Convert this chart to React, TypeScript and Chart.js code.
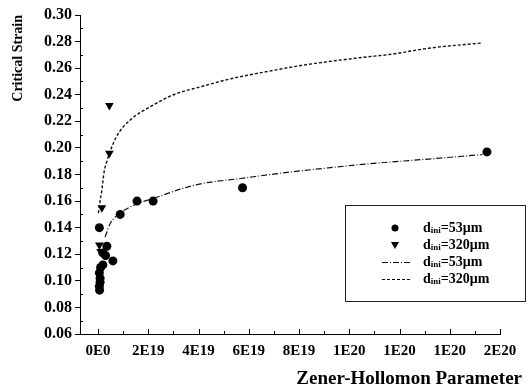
import React, { useEffect, useRef } from 'react';
import { Chart, registerables } from 'chart.js';

Chart.register(...registerables);

const FONT = '"Liberation Serif", "DejaVu Serif", "Times New Roman", serif';

// Axis ticks
const xTickValues = [0, 2e19, 4e19, 6e19, 8e19, 1e20, 1.2e20, 1.4e20, 1.6e20];
const xTickLabels = ['0E0', '2E19', '4E19', '6E19', '8E19', '1E20', '1E20', '1E20', '2E20'];
const xMinorValues = [1e19, 3e19, 5e19, 7e19, 9e19, 1.1e20, 1.3e20, 1.5e20];
const yTickValues = [0.06, 0.08, 0.1, 0.12, 0.14, 0.16, 0.18, 0.2, 0.22, 0.24, 0.26, 0.28, 0.3];
const yTickLabels = ['0.06', '0.08', '0.10', '0.12', '0.14', '0.16', '0.18', '0.20', '0.22', '0.24', '0.26', '0.28', '0.30'];
const yMinorValues = [0.07, 0.09, 0.11, 0.13, 0.15, 0.17, 0.19, 0.21, 0.23, 0.25, 0.27, 0.29];

// d_ini = 53 µm measured points
const d53X = [5e17, 3.5e18, 1.9e18, 3.0e18, 1.9e18, 1.0e18, 5e17, 8e17, 8e17, 5e17, 6e17, 5.9e18, 8.8e18, 1.55e19, 2.19e19, 5.75e19, 1.548e20];
const d53Y = [0.140, 0.126, 0.121, 0.119, 0.112, 0.110, 0.106, 0.102, 0.099, 0.096, 0.093, 0.115, 0.150, 0.160, 0.160, 0.170, 0.197];

// d_ini = 320 µm measured points
const d320X = [1.5e18, 5e17, 1.0e18, 4.5e18, 4.5e18];
const d320Y = [0.155, 0.127, 0.122, 0.196, 0.232];

// fitted curves
const fit53X = [2.8e18, 4.8e18, 8.8e18, 1.56e19, 2.2e19, 3.28e19, 4.08e19, 5.68e19, 7.28e19, 9.16e19, 1.076e20, 1.34e20, 1.53e20];
const fit53Y = [0.133, 0.143, 0.151, 0.158, 0.162, 0.169, 0.173, 0.177, 0.181, 0.185, 0.188, 0.192, 0.195];

const fit320X = [1e17, 8e17, 1.5e18, 2.4e18, 3.5e18, 7.2e18, 1.28e19, 2.08e19, 3.0e19, 4.08e19, 5.28e19, 6.6e19, 8.08e19, 1.048e20, 1.168e20, 1.316e20, 1.53e20];
const fit320Y = [0.151, 0.160, 0.168, 0.182, 0.190, 0.208, 0.221, 0.231, 0.240, 0.246, 0.252, 0.257, 0.262, 0.268, 0.2705, 0.275, 0.279];

const legendItems = [
  { kind: 'circle', label: '=53μm' },
  { kind: 'triangle', label: '=320μm' },
  { kind: 'dashdot', label: '=53μm' },
  { kind: 'dash', label: '=320μm' },
];

const zip = (xs: number[], ys: number[]) => xs.map((x, i) => ({ x, y: ys[i] }));

const decorPlugin = {
  id: 'decor',
  afterDraw(chart: any) {
    const { ctx, chartArea, scales } = chart;
    const xs = scales.x;
    const ys = scales.y;
    ctx.save();
    ctx.strokeStyle = '#000';
    ctx.lineWidth = 1;
    // x ticks (inward)
    ctx.beginPath();
    xTickValues.forEach((v) => {
      const px = Math.round(xs.getPixelForValue(v)) + 0.5;
      ctx.moveTo(px, chartArea.bottom);
      ctx.lineTo(px, chartArea.bottom - 5);
    });
    xMinorValues.forEach((v) => {
      const px = Math.round(xs.getPixelForValue(v)) + 0.5;
      ctx.moveTo(px, chartArea.bottom);
      ctx.lineTo(px, chartArea.bottom - 3);
    });
    // y minor ticks (inward)
    yMinorValues.forEach((v) => {
      const py = Math.round(ys.getPixelForValue(v)) + 0.5;
      ctx.moveTo(chartArea.left, py);
      ctx.lineTo(chartArea.left + 3, py);
    });
    ctx.stroke();

    // x axis title
    ctx.fillStyle = '#000';
    ctx.font = `bold 19px ${FONT}`;
    ctx.textAlign = 'right';
    ctx.textBaseline = 'alphabetic';
    ctx.fillText('Zener-Hollomon Parameter', chartArea.right + 22, 384);

    // legend
    const bx = chartArea.left + 265;
    const by = chartArea.top + 190;
    const bw = 180;
    const bh = 96;
    ctx.fillStyle = '#fff';
    ctx.fillRect(bx, by, bw, bh);
    ctx.strokeStyle = '#222';
    ctx.lineWidth = 1;
    ctx.strokeRect(bx + 0.5, by + 0.5, bw, bh);
    const symX = bx + 50;
    const textX = bx + 78;
    legendItems.forEach((it, i) => {
      const cy = by + 23 + i * 17;
      ctx.fillStyle = '#000';
      ctx.strokeStyle = '#000';
      if (it.kind === 'circle') {
        ctx.beginPath();
        ctx.arc(symX, cy, 3.5, 0, Math.PI * 2);
        ctx.fill();
      } else if (it.kind === 'triangle') {
        ctx.beginPath();
        ctx.moveTo(symX - 4, cy - 3);
        ctx.lineTo(symX + 4, cy - 3);
        ctx.lineTo(symX, cy + 4);
        ctx.closePath();
        ctx.fill();
      } else {
        ctx.beginPath();
        ctx.lineWidth = 1;
        ctx.setLineDash(it.kind === 'dash' ? [3, 2] : [6, 2, 1, 2]);
        ctx.moveTo(symX - 13, cy + 0.5);
        ctx.lineTo(symX + 17, cy + 0.5);
        ctx.stroke();
        ctx.setLineDash([]);
      }
      ctx.textAlign = 'left';
      ctx.textBaseline = 'middle';
      ctx.font = `bold 14px ${FONT}`;
      ctx.fillText('d', textX, cy);
      const dw = ctx.measureText('d').width;
      ctx.font = `bold 9px ${FONT}`;
      ctx.fillText('ini', textX + dw, cy + 3);
      const sw = ctx.measureText('ini').width;
      ctx.font = `bold 14px ${FONT}`;
      ctx.fillText(it.label, textX + dw + sw, cy);
    });
    ctx.restore();
  },
};

export default function App() {
  const ref = useRef<HTMLCanvasElement | null>(null);
  useEffect(() => {
    document.body.style.margin = '0';
    if (!ref.current) return;
    const chart = new Chart(ref.current, {
      type: 'scatter',
      data: {
        datasets: [
          {
            label: 'd53',
            data: zip(d53X, d53Y),
            pointStyle: 'circle',
            pointRadius: 4.5,
            backgroundColor: '#000',
            borderColor: '#000',
            borderWidth: 0,
            order: 0,
          },
          {
            label: 'd320',
            data: zip(d320X, d320Y),
            pointStyle: 'triangle',
            pointRotation: 180,
            pointRadius: 5,
            backgroundColor: '#000',
            borderColor: '#000',
            borderWidth: 0,
            order: 0,
          },
          {
            label: 'fit53',
            data: zip(fit53X, fit53Y),
            showLine: true,
            pointRadius: 0,
            borderColor: '#111',
            borderWidth: 1.2,
            borderDash: [6, 2, 1, 2],
            cubicInterpolationMode: 'monotone',
            order: 1,
          },
          {
            label: 'fit320',
            data: zip(fit320X, fit320Y),
            showLine: true,
            pointRadius: 0,
            borderColor: '#111',
            borderWidth: 1.4,
            borderDash: [3, 2],
            cubicInterpolationMode: 'monotone',
            order: 1,
          },
        ],
      } as any,
      options: {
        animation: false,
        responsive: false,
        maintainAspectRatio: false,
        layout: { padding: { left: 0, right: 30, top: 15, bottom: 0 } },
        plugins: { legend: { display: false }, tooltip: { enabled: false } },
        scales: {
          x: {
            type: 'linear',
            min: -0.72e19,
            max: 1.6e20,
            afterBuildTicks: (s: any) => {
              s.ticks = xTickValues.map((v) => ({ value: v }));
            },
            afterFit: (s: any) => {
              s.height = 54;
            },
            ticks: {
              autoSkip: false,
              maxRotation: 0,
              padding: 8,
              color: '#000',
              font: { family: FONT, size: 15, weight: 'bold' },
              callback: (v: any) => xTickLabels[xTickValues.indexOf(v)] ?? '',
            },
            grid: { drawOnChartArea: false, drawTicks: false },
            border: { display: true, color: '#000', width: 1 },
          },
          y: {
            type: 'linear',
            min: 0.06,
            max: 0.3,
            afterBuildTicks: (s: any) => {
              s.ticks = yTickValues.map((v) => ({ value: v }));
            },
            afterFit: (s: any) => {
              s.width = 80;
            },
            ticks: {
              padding: 3,
              color: '#000',
              font: { family: FONT, size: 16, weight: 'bold' },
              callback: (v: any) => yTickLabels[yTickValues.indexOf(v)] ?? '',
            },
            grid: { drawOnChartArea: false, drawTicks: true, tickLength: 5, color: '#000' },
            border: { display: true, color: '#000', width: 1 },
            title: {
              display: true,
              text: 'Critical Strain',
              align: 'end',
              color: '#000',
              font: { family: FONT, size: 14, weight: 'bold' },
              padding: { top: 10, bottom: 0 },
            },
          },
        },
      } as any,
      plugins: [decorPlugin],
    });
    return () => chart.destroy();
  }, []);
  return (
    <div style={{ width: 530, height: 388 }}>
      <canvas ref={ref} width={530} height={388} style={{ display: 'block' }} />
    </div>
  );
}
